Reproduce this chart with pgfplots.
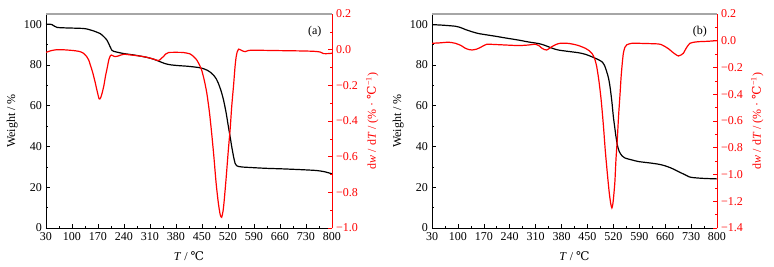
\documentclass[border=0pt]{standalone}
\usepackage{pgfplots}
\pgfplotsset{compat=1.18}
\usepackage{fontspec}
\setmainfont{Liberation Serif}
\newfontfamily\djs{DejaVu Serif}
\newcommand{\degC}{{\djs ℃}}
\definecolor{myred}{RGB}{255,0,0}
\newcommand{\myfont}{\fontsize{12}{14}\selectfont}

\pgfplotstableread{
T W
30 100
40 100
46 99.8
53 99
60 98.4
80 98.2
131 97.9
145 97.4
158 96.7
168 96
176 95.4
185 94
194 92.2
200 90
207 87.3
212 86.7
216 86.5
239 85.6
270 84.8
302 83.7
320 82.8
337 81.6
350 80.7
364 80.1
385 79.7
409 79.4
430 79
445 78.6
455 78.1
463 77.5
472 76.5
481 75
488 73.3
494 71
501 67.5
508 62.8
515 56.5
521 49.8
526 44.5
530 40
535 35
539 31.8
543 30.6
548 30.2
560 29.9
579 29.7
620 29.3
669 29
720 28.6
759 28.2
780 27.6
800 26.6
}\wa

\pgfplotstableread{
T D
30 -0.015
45 -0.005
60 0.0
80 -0.001
104 -0.005
120 -0.01
131 -0.02
140 -0.04
145 -0.058
150 -0.09
156 -0.13
162 -0.18
167 -0.226
173 -0.276
177 -0.27
181 -0.244
186 -0.2
190 -0.15
195 -0.1
199 -0.058
203 -0.035
206 -0.03
211 -0.035
216 -0.039
225 -0.035
239 -0.026
260 -0.03
293 -0.039
315 -0.05
333 -0.061
340 -0.05
346 -0.039
352 -0.025
360 -0.016
380 -0.015
400 -0.016
418 -0.024
428 -0.04
436 -0.058
443 -0.085
449 -0.114
456 -0.17
463 -0.244
470 -0.35
476 -0.468
482 -0.6
488 -0.748
494 -0.86
499 -0.925
503 -0.940
507 -0.9
510 -0.841
515 -0.72
521 -0.561
526 -0.44
530 -0.319
535 -0.2
539 -0.095
542 -0.04
545 -0.011
549 0.003
553 0.0
560 -0.008
566 -0.011
575 -0.005
588 -0.003
650 -0.005
714 -0.007
750 -0.009
768 -0.013
777 -0.022
790 -0.022
800 -0.02
}\da

\pgfplotstableread{
T W
30 99.8
60 99.5
93 99
108 98.3
120 97.4
138 96.3
156 95.4
180 94.7
201 94.1
230 93.2
264 92.2
290 91.3
318 90.5
332 89.8
345 88.9
358 88
372 87.3
400 86.6
426 86
445 85.2
462 84
476 82.9
489 81.6
496 79.8
502 76.7
507 73.5
511 69.3
516 62
520 54.6
524 49
527 44.9
531 40.5
536 37.5
543 35.5
552 34.3
570 33.4
588 32.6
624 31.8
645 31.2
660 30.5
675 29.5
687 28.5
700 27.3
714 26.1
725 25.1
732 24.8
750 24.5
768 24.3
800 24.1
}\wb

\pgfplotstableread{
T D
30 -0.019
50 -0.016
75 -0.011
93 -0.019
108 -0.035
120 -0.056
130 -0.066
138 -0.069
150 -0.063
160 -0.051
170 -0.036
178 -0.026
200 -0.028
230 -0.032
264 -0.036
290 -0.032
309 -0.026
318 -0.035
327 -0.056
334 -0.066
340 -0.069
347 -0.058
354 -0.044
365 -0.028
376 -0.019
395 -0.019
408 -0.024
425 -0.035
444 -0.056
455 -0.075
462 -0.094
469 -0.13
475 -0.193
481 -0.3
487 -0.442
493 -0.63
498 -0.815
504 -1.0
509 -1.139
513 -1.22
516 -1.25
518 -1.23
520 -1.188
524 -1.06
527 -0.89
531 -0.72
534 -0.566
538 -0.4
541 -0.268
544 -0.17
547 -0.094
551 -0.05
556 -0.031
570 -0.019
600 -0.02
642 -0.024
652 -0.032
660 -0.044
670 -0.062
678 -0.081
688 -0.102
696 -0.114
703 -0.106
709 -0.094
718 -0.05
727 -0.019
740 -0.01
750 -0.007
775 -0.004
800 0.001
}\db

\pgfplotsset{
  base/.style={
    scale only axis, height=214pt,
    xmin=30, xmax=800,
    xtick={30,100,170,240,310,380,450,520,590,660,730,800},
    minor x tick num=1,
    tick align=inside, major tick length=4pt, minor tick length=2pt,
    tick label style={font=\myfont},
    label style={font=\myfont},
    every node/.append style={font=\myfont},
    /pgf/number format/assume math mode=true,
    axis line style={-, line width=0.8pt},
    every tick/.style={line width=0.6pt},
  },
  leftax/.style={
    base,
    axis x line*=bottom, axis y line*=left,
    ymin=0, ymax=105, ytick={0,20,40,60,80,100}, minor y tick num=1,
    xlabel={\textit{T} / \degC},
    ylabel={Weight / \%},
    xlabel style={yshift=-3pt},
    ylabel style={yshift=-2pt},
  },
  rightax/.style={
    base,
    axis x line*=top, axis y line*=right,
    xtick=\empty,
    x axis line style={gray!70, line width=1.2pt},
    y axis line style={myred},
    ytick style={myred},
    yticklabel style={myred},
    ylabel style={myred, yshift=0pt},
    ylabel={d\textit{w} / d\textit{T} / (\% · \degC\textsuperscript{−1})},
    minor y tick num=1,
  },
}

\begin{document}
\myfont
\begin{tikzpicture}[font=\myfont]
\useasboundingbox (0,0) rectangle (774pt,266pt);
% Panel (a)
\begin{axis}[leftax, width=286pt, at={(46pt,38pt)}, anchor=south west]
  \addplot[black, line width=1.2pt, smooth, tension=0.4] table[x=T,y=W] {\wa};
  \node at (rel axis cs:0.94,0.92) {(a)};
\end{axis}
\begin{axis}[rightax, width=286pt, at={(46pt,38pt)}, anchor=south west,
  ymin=-1, ymax=0.2,
  ytick={-1,-0.8,-0.6,-0.4,-0.2,0,0.2},
  yticklabels={−1.0,−0.8,−0.6,−0.4,−0.2,0.0,0.2}]
  \addplot[myred, line width=1.2pt, smooth, tension=0.4] table[x=T,y=D] {\da};
\end{axis}
% Panel (b)
\begin{axis}[leftax, width=285pt, at={(432pt,38pt)}, anchor=south west]
  \addplot[black, line width=1.2pt, smooth, tension=0.4] table[x=T,y=W] {\wb};
  \node at (rel axis cs:0.94,0.92) {(b)};
\end{axis}
\begin{axis}[rightax, width=285pt, at={(432pt,38pt)}, anchor=south west,
  ymin=-1.4, ymax=0.2,
  ytick={-1.4,-1.2,-1,-0.8,-0.6,-0.4,-0.2,0,0.2},
  yticklabels={−1.4,−1.2,−1.0,−0.8,−0.6,−0.4,−0.2,0.0,0.2}]
  \addplot[myred, line width=1.2pt, smooth, tension=0.4] table[x=T,y=D] {\db};
\end{axis}
\end{tikzpicture}
\end{document}
